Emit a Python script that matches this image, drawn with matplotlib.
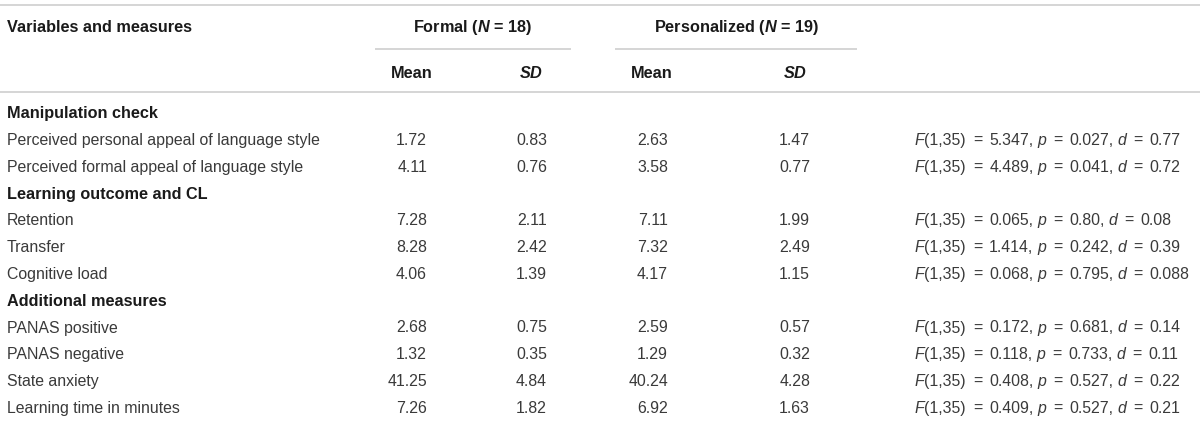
import matplotlib
matplotlib.use("Agg")
import matplotlib.pyplot as plt

plt.rcParams['font.family'] = ['Liberation Sans', 'DejaVu Sans']
plt.rcParams['mathtext.fontset'] = 'custom'
plt.rcParams['mathtext.rm'] = 'Liberation Sans'
plt.rcParams['mathtext.it'] = 'Liberation Sans:italic'
plt.rcParams['mathtext.bf'] = 'Liberation Sans:bold'
plt.rcParams['mathtext.bfit'] = 'Liberation Sans:bold:italic'

# ---- data ----
group_headers = [r"Formal ($\mathbfit{N}$ = 18)", r"Personalized ($\mathbfit{N}$ = 19)"]
sub_headers = ["Mean", r"$\mathbfit{SD}$", "Mean", r"$\mathbfit{SD}$"]
row_labels = ["Manipulation check",
              "Perceived personal appeal of language style",
              "Perceived formal appeal of language style",
              "Learning outcome and CL",
              "Retention", "Transfer", "Cognitive load",
              "Additional measures",
              "PANAS positive", "PANAS negative", "State anxiety",
              "Learning time in minutes"]
is_section = [True, False, False, True, False, False, False, True, False, False, False, False]
formal_mean = [None, 1.72, 4.11, None, 7.28, 8.28, 4.06, None, 2.68, 1.32, 41.25, 7.26]
formal_sd = [None, 0.83, 0.76, None, 2.11, 2.42, 1.39, None, 0.75, 0.35, 4.84, 1.82]
pers_mean = [None, 2.63, 3.58, None, 7.11, 7.32, 4.17, None, 2.59, 1.29, 40.24, 6.92]
pers_sd = [None, 1.47, 0.77, None, 1.99, 2.49, 1.15, None, 0.57, 0.32, 4.28, 1.63]
f_vals = [None, "5.347", "4.489", None, "0.065", "1.414", "0.068", None, "0.172", "0.118", "0.408", "0.409"]
p_vals = [None, "0.027", "0.041", None, "0.80", "0.242", "0.795", None, "0.681", "0.733", "0.527", "0.527"]
d_vals = [None, "0.77", "0.72", None, "0.08", "0.39", "0.088", None, "0.14", "0.11", "0.22", "0.21"]

# ---- layout ----
W, H = 1200, 421
fig = plt.figure(figsize=(W / 100, H / 100), dpi=100)
ax = fig.add_axes([0, 0, 1, 1])
ax.set_xlim(0, W)
ax.set_ylim(H, 0)
ax.axis('off')
renderer = fig.canvas.get_renderer()

fs = 11.4
fsb = 11.7
hdr_color = '#1a1a1a'
body_color = '#3a3a3a'
rule_color = '#d2d2d2'
base_off = 5.6

sub_x = [412, 531, 652, 795]
num_right = [427, 547, 668, 810]
f_x = 915
label_x = 7
g_eq = 7.0     # gap around "="
g_sp = 4.0     # gap after comma
g_it = -0.5    # gap after italic F


def draw_runs(x, y, runs):
    """runs: list of (text, italic, gap_after)"""
    for s, it, gap in runs:
        t = ax.text(x, y, s, fontsize=fs, color=body_color, ha='left', va='baseline',
                    fontstyle='italic' if it else 'normal')
        bb = t.get_window_extent(renderer)
        x = x + bb.width + gap


# rules
ax.plot([0, W], [5, 5], color=rule_color, lw=1.3, solid_capstyle='butt')
ax.plot([0, W], [92, 92], color=rule_color, lw=1.3, solid_capstyle='butt')
ax.plot([375, 571], [49, 49], color=rule_color, lw=1.3, solid_capstyle='butt')
ax.plot([615, 857], [49, 49], color=rule_color, lw=1.3, solid_capstyle='butt')

# headers
ax.text(label_x, 26 + base_off, "Variables and measures", fontsize=fsb, fontweight='bold',
        color=hdr_color, ha='left', va='baseline')
ax.text(473, 26 + base_off, group_headers[0], fontsize=fsb, fontweight='bold',
        color=hdr_color, ha='center', va='baseline')
ax.text(737, 26 + base_off, group_headers[1], fontsize=fsb, fontweight='bold',
        color=hdr_color, ha='center', va='baseline')
for x, s in zip(sub_x, sub_headers):
    ax.text(x, 72 + base_off, s, fontsize=fsb, fontweight='bold', color=hdr_color,
            ha='center', va='baseline')

# body
y0, dy = 112.5, 26.8
for i, lab in enumerate(row_labels):
    y = y0 + i * dy + base_off
    if is_section[i]:
        ax.text(label_x, y, lab, fontsize=fsb, fontweight='bold', color=hdr_color,
                ha='left', va='baseline')
        continue
    ax.text(label_x, y, lab, fontsize=fs, color=body_color, ha='left', va='baseline')
    vals = [formal_mean[i], formal_sd[i], pers_mean[i], pers_sd[i]]
    for x, v in zip(num_right, vals):
        ax.text(x, y, f"{v:.2f}", fontsize=fs, color=body_color, ha='right', va='baseline')
    runs = [("F", True, g_it), ("(1,35)", False, g_eq), ("=", False, g_eq),
            (f_vals[i] + ",", False, g_sp), ("p", True, g_eq), ("=", False, g_eq),
            (p_vals[i] + ",", False, g_sp), ("d", True, g_eq), ("=", False, g_eq),
            (d_vals[i], False, 0)]
    draw_runs(f_x, y, runs)

fig.savefig("out.png", dpi=100, facecolor='white')
